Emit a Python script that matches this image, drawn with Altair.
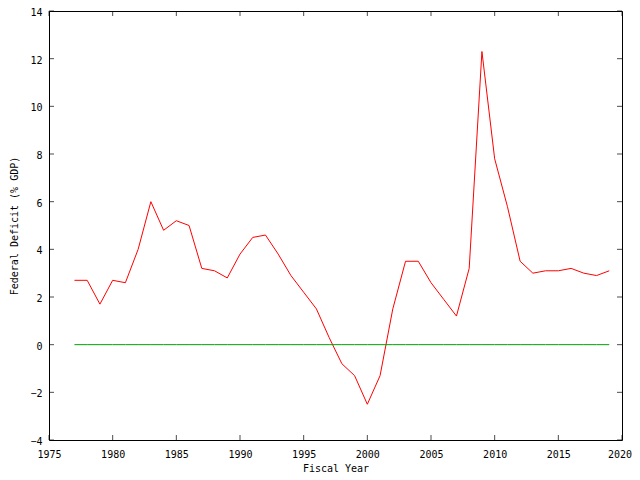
import altair as alt
import pandas as pd

years = list(range(1977, 2020))
deficit = [2.7, 2.7, 1.7, 2.7, 2.6, 4.0, 6.0, 4.8, 5.2, 5.0,
           3.2, 3.1, 2.8, 3.8, 4.5, 4.6, 3.8, 2.9, 2.2, 1.5,
           0.3, -0.8, -1.3, -2.5, -1.3, 1.5, 3.5, 3.5, 2.6, 1.9,
           1.2, 3.2, 12.3, 7.8, 5.8, 3.5, 3.0, 3.1, 3.1, 3.2,
           3.0, 2.9, 3.1]
zero = [0] * len(years)

x_ticks = [1975, 1980, 1985, 1990, 1995, 2000, 2005, 2010, 2015, 2020]
y_ticks = [-4, -2, 0, 2, 4, 6, 8, 10, 12, 14]
x_min, x_max = 1975, 2020
y_min, y_max = -4, 14

W, H = 573, 429
FONT = "DejaVu Sans Mono"

df = pd.DataFrame({"year": years, "deficit": deficit, "zero": zero})
xt = pd.DataFrame({"tick": x_ticks})
yt = pd.DataFrame({"tick": y_ticks})

xs = alt.Scale(domain=[x_min, x_max], nice=False, zero=False)
ys = alt.Scale(domain=[y_min, y_max], nice=False, zero=False)

xaxis = alt.Axis(values=x_ticks, format="d", ticks=False, domain=False, grid=False,
                 labelFlush=False, labelOverlap=False, labelPadding=9,
                 labelOffset={"expr": "datum.value == 2020 ? -2.5 : 0"},
                 title="Fiscal Year", titleX=W / 2, titleY=28, titleBaseline="middle",
                 titleFontWeight="normal")
yaxis = alt.Axis(values=y_ticks, ticks=False, domain=False, grid=False,
                 labelFlush=False, labelOverlap=False, labelPadding=7, labelOffset=1.5,
                 title="Federal Deficit (% GDP)", titleX=-35, titleY=H / 2,
                 titleBaseline="middle", titleFontWeight="normal")

line = alt.Chart(df).mark_line(color="#ff0000", strokeWidth=1).encode(
    x=alt.X("year:Q", scale=xs, axis=xaxis),
    y=alt.Y("deficit:Q", scale=ys, axis=yaxis),
)
zline = alt.Chart(df).mark_line(color="#00a000", strokeWidth=1).encode(
    x=alt.X("year:Q", scale=xs, axis=xaxis),
    y=alt.Y("zero:Q", scale=ys, axis=yaxis),
)

tl = 5
bottom_ticks = alt.Chart(xt).mark_tick(orient="vertical", size=tl, thickness=1,
                                       color="black", yOffset=-tl / 2).encode(
    x=alt.X("tick:Q", scale=xs, axis=xaxis),
    y=alt.YDatum(y_min, scale=ys, axis=yaxis))
top_ticks = alt.Chart(xt).mark_tick(orient="vertical", size=tl, thickness=1,
                                    color="black", yOffset=tl / 2).encode(
    x=alt.X("tick:Q", scale=xs, axis=xaxis),
    y=alt.YDatum(y_max, scale=ys, axis=yaxis))
left_ticks = alt.Chart(yt).mark_tick(orient="horizontal", size=tl, thickness=1,
                                     color="black", xOffset=tl / 2).encode(
    y=alt.Y("tick:Q", scale=ys, axis=yaxis),
    x=alt.XDatum(x_min, scale=xs, axis=xaxis))
right_ticks = alt.Chart(yt).mark_tick(orient="horizontal", size=tl, thickness=1,
                                      color="black", xOffset=-tl / 2).encode(
    y=alt.Y("tick:Q", scale=ys, axis=yaxis),
    x=alt.XDatum(x_max, scale=xs, axis=xaxis))

chart = alt.layer(line, zline, bottom_ticks, top_ticks, left_ticks, right_ticks).properties(
    width=W, height=H,
    autosize="none",
    background="white",
    padding={"left": 41, "top": 3, "right": 10, "bottom": 32},
).configure_view(stroke="black", strokeWidth=1).configure_axis(
    labelFont=FONT, labelFontSize=10, labelColor="black",
    titleFont=FONT, titleFontSize=10, titleColor="black",
)

chart.save("out.html", embed_options={"renderer": "svg", "actions": False})
